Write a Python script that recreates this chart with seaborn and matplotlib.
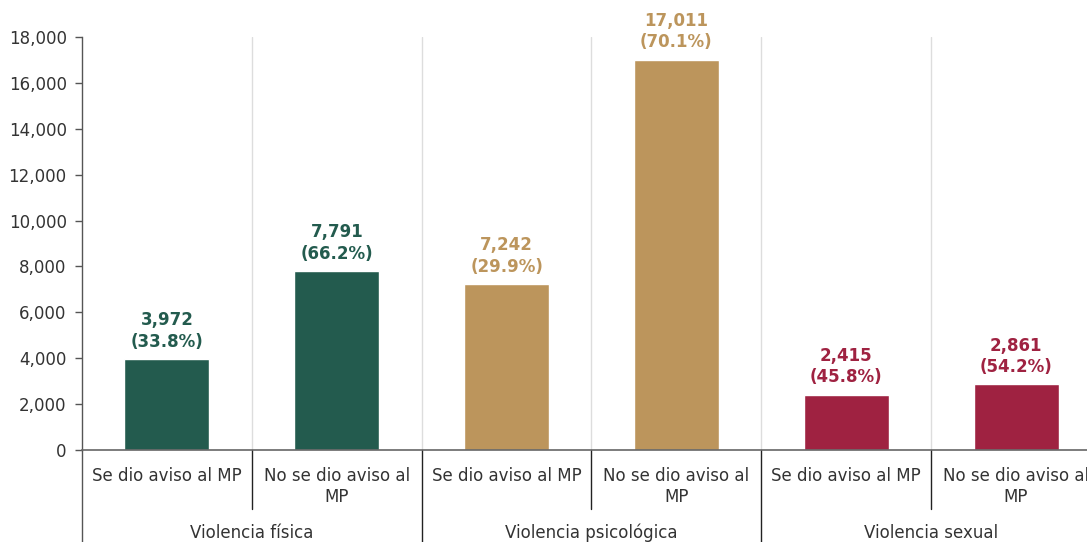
import matplotlib
matplotlib.use("Agg")
import matplotlib.pyplot as plt
import matplotlib.transforms as mtransforms
import seaborn as sns
import pandas as pd

# Data
groups = ["Violencia física", "Violencia psicológica", "Violencia sexual"]
sub_labels = ["Se dio aviso al MP", "No se dio aviso al\nMP"]
values = [3972, 7791, 7242, 17011, 2415, 2861]
percents = [33.8, 66.2, 29.9, 70.1, 45.8, 54.2]
group_colors = ["#235B4E", "#BC955C", "#9F2241"]
y_ticks = [0, 2000, 4000, 6000, 8000, 10000, 12000, 14000, 16000, 18000]

bar_keys = [f"{g}|{s}" for g in groups for s in sub_labels]
bar_groups = [g for g in groups for _ in sub_labels]
df = pd.DataFrame({"key": bar_keys, "group": bar_groups, "value": values})

sns.set_theme(style="white")
plt.rcParams["font.family"] = ["DejaVu Sans"]
text_color = "#333333"

fig = plt.figure(figsize=(10.87, 5.42), dpi=100)
# the plotting area runs slightly past the right edge of the figure
ax = fig.add_axes([82 / 1087, 92 / 542, 1019 / 1087, 413 / 542])

sns.barplot(data=df, x="key", y="value", hue="group", order=bar_keys,
            hue_order=groups, palette=group_colors, width=0.5,
            dodge=False, legend=False, ax=ax, saturation=1)

ax.set_ylim(0, 18000)
ax.set_xlim(-0.5, len(values) - 0.5)
ax.set_yticks(y_ticks)
ax.set_yticklabels([f"{v:,}" for v in y_ticks], fontsize=12, color=text_color)
ax.tick_params(axis="y", length=5, width=1, color="#555555", left=True, pad=6)
ax.set_xticks([])
ax.set_xlabel("")
ax.set_ylabel("")

for side in ["top", "right"]:
    ax.spines[side].set_visible(False)
ax.spines["left"].set_color("#555555")
ax.spines["bottom"].set_color("#666666")
ax.spines["left"].set_linewidth(1)
ax.spines["bottom"].set_linewidth(1.2)

# light vertical grid between bars
for xb in [0.5, 1.5, 2.5, 3.5, 4.5]:
    ax.axvline(xb, color="#DDDDDD", lw=1, zorder=0)

# value labels above bars
for i, (v, p) in enumerate(zip(values, percents)):
    color = group_colors[i // 2]
    ax.annotate(f"{v:,}\n({p:.1f}%)", xy=(i, v), xytext=(0, 6),
                textcoords="offset points", ha="center", va="bottom",
                fontsize=12, fontweight="bold", color=color, linespacing=1.25)

# two-level category axis
trans = mtransforms.blended_transform_factory(ax.transData, ax.transAxes)
for i, key in enumerate(bar_keys):
    sub = key.split("|")[1]
    ax.text(i, -0.041, sub, transform=trans, ha="center", va="top",
            fontsize=12, color=text_color, linespacing=1.25)
for gi, g in enumerate(groups):
    ax.text(gi * 2 + 0.5, -0.201, g, transform=trans, ha="center",
            va="center", fontsize=12, color=text_color)

line_kw = dict(transform=trans, color="#222222", lw=1, clip_on=False)
for xb in [0.5, 2.5, 4.5]:
    ax.plot([xb, xb], [0, -0.142], **line_kw)
for xb in [1.5, 3.5]:
    ax.plot([xb, xb], [0, -0.235], **line_kw)
ax.plot([-0.5, -0.5], [0, -0.235], transform=trans, color="#555555",
        lw=1, clip_on=False)

fig.savefig("out.png", dpi=100)
